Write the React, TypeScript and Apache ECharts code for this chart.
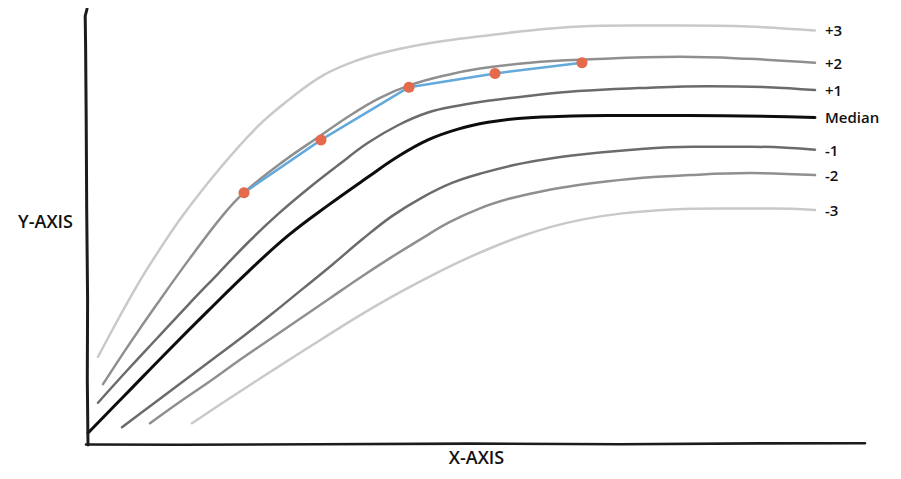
import React, { useEffect, useRef } from "react";
import * as echarts from "echarts";

// Reference curves (x, y) in generic units (x axis 0-777, y axis 0-436)
const plus3: [number, number][] = [
  [10, 79], [31, 119], [52, 157], [73, 191], [95, 224], [132, 272], [169, 314], [202, 343],
  [235, 367], [268, 382], [302, 392], [347, 401], [392, 407], [442, 413], [492, 417],
  [542, 418], [592, 418], [660, 417], [727, 413],
];
const plus2: [number, number][] = [
  [15, 51], [42, 93], [69, 133], [102, 180], [135, 224], [156, 247], [194, 278], [232, 305],
  [262, 326], [292, 344], [322, 357], [357, 367], [392, 374], [442, 380], [492, 383],
  [592, 386], [660, 384], [727, 380],
];
const plus1: [number, number][] = [
  [10, 32], [40, 66], [70, 99], [100, 132], [130, 164], [160, 196], [190, 225], [220, 251],
  [250, 275], [280, 298], [310, 316], [340, 329], [370, 336], [400, 341], [440, 346],
  [490, 351], [550, 354], [620, 356], [680, 355], [727, 352],
];
const median: [number, number][] = [
  [0, 1], [40, 43], [80, 85], [120, 126], [160, 166], [200, 203], [240, 234], [280, 263],
  [310, 284], [340, 301], [370, 312], [400, 319], [430, 323], [470, 325], [520, 326],
  [600, 326], [727, 324],
];
const minus1: [number, number][] = [
  [34, 7], [64, 30], [94, 53], [124, 76], [154, 99], [184, 123], [214, 148], [244, 173],
  [274, 199], [304, 223], [334, 242], [364, 257], [394, 267], [434, 277], [484, 285],
  [544, 291], [604, 294], [664, 294], [727, 291],
];
const minus2: [number, number][] = [
  [62, 11], [92, 33], [122, 54], [152, 76], [182, 97], [212, 118], [242, 139], [272, 160],
  [302, 180], [332, 199], [362, 217], [392, 231], [422, 241], [452, 248], [492, 255],
  [542, 261], [602, 265], [662, 267], [727, 265],
];
const minus3: [number, number][] = [
  [104, 11], [134, 31.4], [164, 51.5], [194, 71.3], [224, 90.8], [254, 110.2], [284, 128.8],
  [314, 146.2], [344, 162.4], [374, 177.4], [404, 190.9], [434, 202.6], [464, 212.2],
  [494, 219.4], [534, 225.8], [584, 229.8], [634, 230.8], [684, 230.8], [727, 229.3],
];
const measured: [number, number][] = [
  [156, 247], [233, 301], [321, 355], [407, 369], [494, 380],
];

const curveNames = ["+3", "+2", "+1", "Median", "-1", "-2", "-3"];
const curveData = [plus3, plus2, plus1, median, minus1, minus2, minus3];
const curveColors = ["#c9c9c9", "#8f8f8f", "#6b6b6b", "#0d0d0d", "#6b6b6b", "#8f8f8f", "#c9c9c9"];
const curveWidths = [2.5, 2.5, 2.5, 3, 2.5, 2.5, 2.5];

const FONT = "'Open Sans', Lato, sans-serif";

export default function App() {
  const ref = useRef<HTMLDivElement>(null);
  useEffect(() => {
    if (!ref.current) return;
    const chart = echarts.init(ref.current, undefined, { renderer: "svg" });
    const series: any[] = curveNames.map((name, i) => ({
      type: "line",
      name,
      data: curveData[i],
      smooth: 0.4,
      symbol: "none",
      lineStyle: { color: curveColors[i], width: curveWidths[i], cap: "round" },
      endLabel: {
        show: true,
        formatter: "{a}",
        color: "#111",
        fontFamily: FONT,
        fontSize: 15,
        fontWeight: 600,
        distance: 10,
      },
      z: 2,
    }));
    series.push({
      type: "line",
      name: "measured",
      data: measured,
      symbol: "circle",
      symbolSize: 11,
      itemStyle: { color: "#e5694b", borderWidth: 0 },
      lineStyle: { color: "#63a9dc", width: 2.5 },
      z: 5,
    });
    chart.setOption({
      animation: false,
      backgroundColor: "#ffffff",
      grid: { left: 80, right: 28, top: 0, bottom: 27 },
      xAxis: {
        type: "value",
        min: 0,
        max: 777,
        name: "X-AXIS",
        nameLocation: "middle",
        nameGap: 14,
        nameTextStyle: { color: "#111", fontFamily: FONT, fontSize: 18, fontWeight: 600 },
        axisLine: { show: false },
        axisTick: { show: false },
        axisLabel: { show: false },
        splitLine: { show: false },
      },
      yAxis: {
        type: "value",
        min: 0,
        max: 436,
        name: "Y-AXIS",
        nameLocation: "middle",
        nameRotate: 0,
        nameGap: 15,
        nameTextStyle: { color: "#111", fontFamily: FONT, fontSize: 18, fontWeight: 600 },
        axisLine: { show: false },
        axisTick: { show: false },
        axisLabel: { show: false },
        splitLine: { show: false },
      },
      graphic: [
        {
          type: "polyline",
          shape: {
            points: [
              [80, 437], [79.3, 372], [79.6, 292], [78.7, 202], [78.2, 112], [77.6, 37], [77.2, 8], [79, 1],
            ],
          },
          style: { stroke: "#1c1c1c", lineWidth: 3, fill: null, lineCap: "round", lineJoin: "round" },
          z: 10,
        },
        {
          type: "polyline",
          shape: {
            points: [
              [78, 436.5], [172, 436.8], [312, 436.2], [462, 435.6], [612, 436.2], [752, 435.4], [857, 435.2],
            ],
          },
          style: { stroke: "#1c1c1c", lineWidth: 2.6, fill: null, lineCap: "round", lineJoin: "round" },
          z: 10,
        },
      ],
      series,
    });
    return () => chart.dispose();
  }, []);
  return <div ref={ref} style={{ width: 885, height: 463 }} />;
}
